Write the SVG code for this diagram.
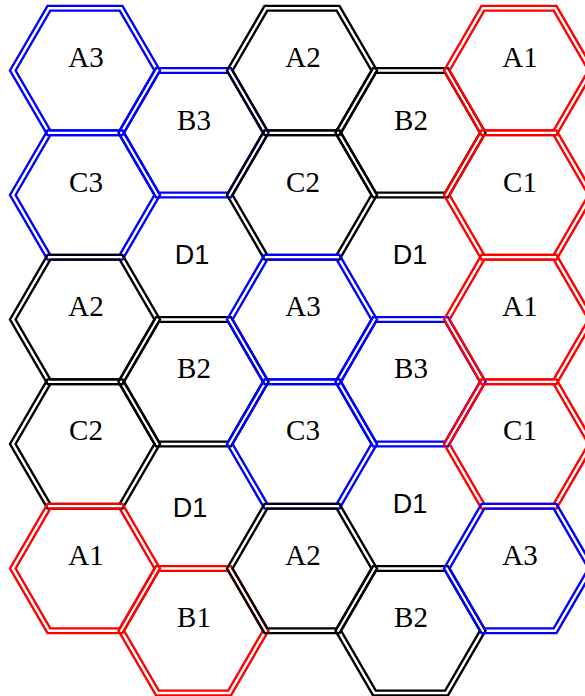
<svg xmlns="http://www.w3.org/2000/svg" xmlns:xlink="http://www.w3.org/1999/xlink" width="585" height="696" viewBox="0 0 585 696">
<style>
.hex polygon{fill:none;stroke-width:2.4;stroke-linejoin:miter}
.blue{stroke:#0000ff}
.black{stroke:#000000}
.red{stroke:#ff0000}
.lbl{font-family:"Liberation Serif","Times New Roman",serif;font-size:29px;text-anchor:middle;fill:#000}
.dl{font-family:"Liberation Sans",Arial,sans-serif;font-size:27px;text-anchor:middle;fill:#000}
</style>
<defs>
<g id="hex" class="hex">
<polygon points="-75,0 -37.5,-64.6 37.5,-64.6 75,0 37.5,64.6 -37.5,64.6"/>
<polygon points="-69.4,0 -34.7,-59.9 34.7,-59.9 69.4,0 34.7,59.9 -34.7,59.9"/>
</g>
</defs>
<rect width="585" height="696" fill="#fff"/>
<g id="c0r0"><use xlink:href="#hex" href="#hex" x="85" y="70.5" class="blue"/><text class="lbl" x="86" y="67">A3</text></g>
<g id="c0r1"><use xlink:href="#hex" href="#hex" x="85" y="195" class="blue"/><text class="lbl" x="86" y="191.5">C3</text></g>
<g id="c0r2"><use xlink:href="#hex" href="#hex" x="85" y="319.5" class="black"/><text class="lbl" x="86" y="315.5">A2</text></g>
<g id="c0r3"><use xlink:href="#hex" href="#hex" x="85" y="444" class="black"/><text class="lbl" x="86" y="440">C2</text></g>
<g id="c0r4"><use xlink:href="#hex" href="#hex" x="85" y="568.5" class="red"/><text class="lbl" x="86" y="564.5">A1</text></g>
<g id="c1r0"><use xlink:href="#hex" href="#hex" x="193.5" y="132.75" class="blue"/><text class="lbl" x="194" y="129.5">B3</text></g>
<g id="c1r1"><text class="dl" x="192" y="264">D1</text></g>
<g id="c1r2"><use xlink:href="#hex" href="#hex" x="193.5" y="381.75" class="black"/><text class="lbl" x="194" y="378">B2</text></g>
<g id="c1r3"><text class="dl" x="190" y="517">D1</text></g>
<g id="c1r4"><use xlink:href="#hex" href="#hex" x="193.5" y="630.75" class="red"/><text class="lbl" x="194" y="627">B1</text></g>
<g id="c2r0"><use xlink:href="#hex" href="#hex" x="302" y="70.5" class="black"/><text class="lbl" x="303" y="67">A2</text></g>
<g id="c2r1"><use xlink:href="#hex" href="#hex" x="302" y="195" class="black"/><text class="lbl" x="303" y="191.5">C2</text></g>
<g id="c2r2"><use xlink:href="#hex" href="#hex" x="302" y="319.5" class="blue"/><text class="lbl" x="303" y="315.5">A3</text></g>
<g id="c2r3"><use xlink:href="#hex" href="#hex" x="302" y="444" class="blue"/><text class="lbl" x="303" y="440">C3</text></g>
<g id="c2r4"><use xlink:href="#hex" href="#hex" x="302" y="568.5" class="black"/><text class="lbl" x="303" y="564.5">A2</text></g>
<g id="c3r0"><use xlink:href="#hex" href="#hex" x="410.5" y="132.75" class="black"/><text class="lbl" x="411" y="129.5">B2</text></g>
<g id="c3r1"><text class="dl" x="410" y="264">D1</text></g>
<g id="c3r2"><use xlink:href="#hex" href="#hex" x="410.5" y="381.75" class="blue"/><text class="lbl" x="411" y="378">B3</text></g>
<g id="c3r3"><text class="dl" x="410" y="513">D1</text></g>
<g id="c3r4"><use xlink:href="#hex" href="#hex" x="410.5" y="630.75" class="black"/><text class="lbl" x="411" y="627">B2</text></g>
<g id="c4r0"><use xlink:href="#hex" href="#hex" x="519" y="70.5" class="red"/><text class="lbl" x="520" y="67">A1</text></g>
<g id="c4r1"><use xlink:href="#hex" href="#hex" x="519" y="195" class="red"/><text class="lbl" x="520" y="191.5">C1</text></g>
<g id="c4r2"><use xlink:href="#hex" href="#hex" x="519" y="319.5" class="red"/><text class="lbl" x="520" y="315.5">A1</text></g>
<g id="c4r3"><use xlink:href="#hex" href="#hex" x="519" y="444" class="red"/><text class="lbl" x="520" y="440">C1</text></g>
<g id="c4r4"><use xlink:href="#hex" href="#hex" x="519" y="568.5" class="blue"/><text class="lbl" x="520" y="564.5">A3</text></g>
</svg>
